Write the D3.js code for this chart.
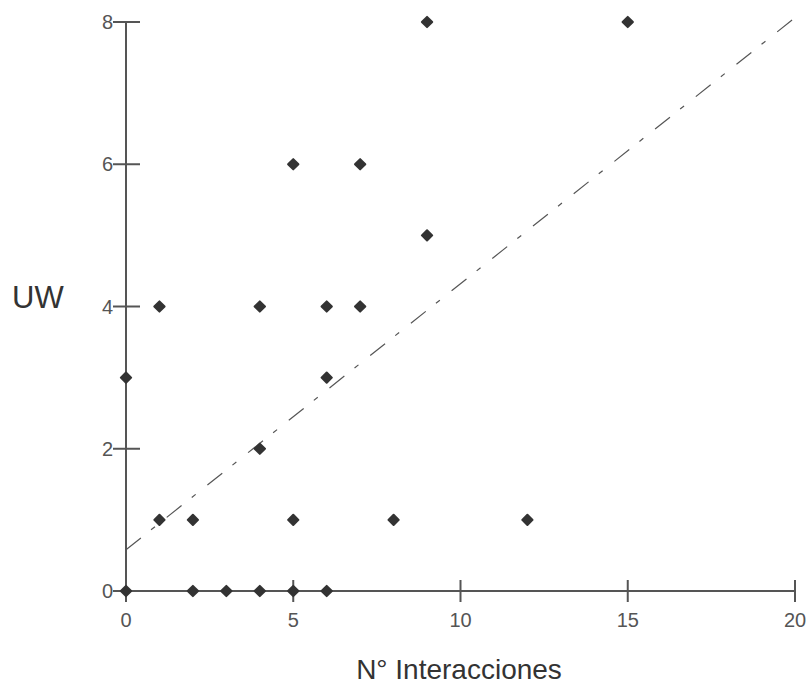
<html>
<head>
    <script src="https://cdn.jsdelivr.net/npm/d3@7"></script>
    <style>
        body { margin: 0; background: white; font-family: "Liberation Sans", Arial, sans-serif; }
    </style>
</head>
<body>
<svg id="chart" width="812" height="691"></svg>
<script>
    // points
    let xVals = [0, 0, 1, 1, 2, 2, 3, 4, 4, 4, 5, 5, 5, 6, 6, 6, 7, 7, 8, 9, 9, 12, 15];
    let yVals = [0, 3, 1, 4, 0, 1, 0, 0, 2, 4, 0, 1, 6, 0, 3, 4, 4, 6, 1, 5, 8, 1, 8];
    // trend line ends
    let trendX = [0, 20];
    let trendY = [0.58, 8.06];
    let xTicks = [0, 5, 10, 15, 20];
    let yTicks = [0, 2, 4, 6, 8];

    let svg = d3.select("#chart");
    let x = d3.scaleLinear().domain([0, 20]).range([126, 795]);
    let y = d3.scaleLinear().domain([0, 8]).range([591, 22]);

    // x axis
    let xa = svg.append("g").attr("transform", "translate(0,591)");
    xa.append("line").attr("x1", x(0)).attr("x2", x(20)).attr("stroke", "#555").attr("stroke-width", 2);
    xa.selectAll(".t").data(xTicks).enter().append("line")
        .attr("x1", d => x(d)).attr("x2", d => x(d)).attr("y1", -11).attr("y2", 11)
        .attr("stroke", "#555").attr("stroke-width", 2);
    xa.selectAll("text").data(xTicks).enter().append("text")
        .attr("x", d => x(d)).attr("y", 36).attr("text-anchor", "middle")
        .attr("font-size", 20).attr("fill", "#555").text(d => d);

    // y axis
    let ya = svg.append("g");
    ya.append("line").attr("x1", x(0)).attr("x2", x(0)).attr("y1", y(0)).attr("y2", y(8))
        .attr("stroke", "#555").attr("stroke-width", 2);
    ya.selectAll(".t").data(yTicks).enter().append("line")
        .attr("x1", x(0) - 13).attr("x2", x(0) + 14).attr("y1", d => y(d)).attr("y2", d => y(d))
        .attr("stroke", "#555").attr("stroke-width", 2);
    ya.selectAll("text").data(yTicks).enter().append("text")
        .attr("x", x(0) - 13).attr("y", d => y(d)).attr("dy", "0.35em").attr("text-anchor", "end")
        .attr("font-size", 20).attr("fill", "#555").text(d => d);

    // trend line
    svg.append("line")
        .attr("x1", x(trendX[0])).attr("y1", y(trendY[0]))
        .attr("x2", x(trendX[1])).attr("y2", y(trendY[1]))
        .attr("stroke", "#555").attr("stroke-width", 1.2)
        .attr("stroke-dasharray", "19,13,5,15");

    // points
    let diamond = d3.symbol().type(d3.symbolDiamond2).size(68);
    svg.selectAll(".pt").data(xVals).enter().append("path")
        .attr("class", "pt")
        .attr("d", diamond)
        .attr("transform", (d, i) => "translate(" + x(d) + "," + y(yVals[i]) + ")")
        .attr("fill", "#333")
        .attr("stroke", "#333").attr("stroke-width", 2).attr("stroke-linejoin", "round");

    // titles
    svg.append("text").attr("x", 459).attr("y", 679).attr("text-anchor", "middle")
        .attr("font-size", 28).attr("fill", "#333").text("N° Interacciones");
    svg.append("text").attr("x", 12).attr("y", 308)
        .attr("font-size", 31).attr("fill", "#333").text("UW");
</script>
</body>
</html>
